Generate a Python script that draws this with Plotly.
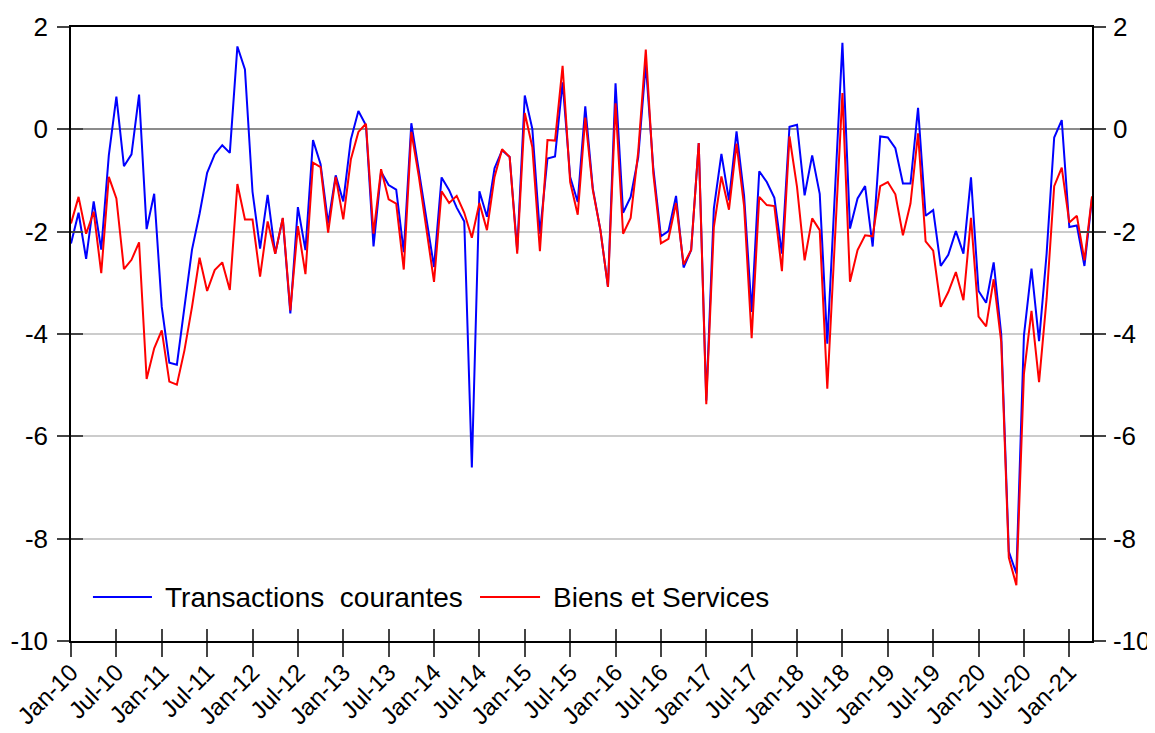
import plotly.graph_objects as go

# Monthly observations, Jan-2010 .. Apr-2021 (136 months)
months = [f"{m}-{y:02d}" for y in range(10, 22) for m in
          ["Jan", "Feb", "Mar", "Apr", "May", "Jun", "Jul", "Aug", "Sep", "Oct", "Nov", "Dec"]][:136]

transactions_courantes = [
    -2.23, -1.63, -2.53, -1.41, -2.35, -0.51, 0.64, -0.72, -0.49, 0.68, -1.95, -1.26,
    -3.47, -4.56, -4.60, -3.47, -2.35, -1.65, -0.85, -0.49, -0.31, -0.46, 1.62, 1.17,
    -1.22, -2.33, -1.28, -2.43, -1.74, -3.60, -1.52, -2.36, -0.21, -0.68, -1.84, -0.90,
    -1.41, -0.20, 0.36, 0.08, -2.29, -0.83, -1.09, -1.18, -2.40, 0.12, -0.80, -1.78,
    -2.69, -0.94, -1.19, -1.53, -1.80, -6.61, -1.21, -1.71, -0.76, -0.41, -0.54, -2.36,
    0.66, 0.01, -2.04, -0.57, -0.53, 0.92, -0.93, -1.42, 0.45, -1.16, -1.97, -3.08,
    0.90, -1.63, -1.32, -0.55, 1.28, -0.77, -2.09, -1.99, -1.30, -2.70, -2.36, -0.27,
    -5.30, -1.55, -0.48, -1.39, -0.04, -1.30, -3.57, -0.82, -1.03, -1.34, -2.43, 0.05,
    0.09, -1.29, -0.51, -1.26, -4.19, -1.25, 1.69, -1.94, -1.35, -1.11, -2.29, -0.14,
    -0.16, -0.37, -1.06, -1.06, 0.42, -1.69, -1.58, -2.67, -2.45, -1.99, -2.43, -0.94,
    -3.16, -3.39, -2.60, -4.01, -8.25, -8.68, -4.03, -2.72, -4.14, -2.43, -0.16, 0.18,
    -1.91, -1.88, -2.67, -1.35,
]

biens_et_services = [
    -1.84, -1.32, -2.04, -1.61, -2.81, -0.93, -1.35, -2.73, -2.55, -2.21, -4.88, -4.28,
    -3.93, -4.93, -4.99, -4.32, -3.47, -2.51, -3.16, -2.75, -2.60, -3.14, -1.07, -1.76,
    -1.76, -2.88, -1.80, -2.43, -1.73, -3.54, -1.89, -2.83, -0.65, -0.74, -2.02, -0.93,
    -1.76, -0.59, -0.05, 0.11, -2.04, -0.78, -1.37, -1.45, -2.74, -0.05, -0.93, -1.97,
    -2.98, -1.21, -1.44, -1.30, -1.63, -2.12, -1.44, -1.97, -0.93, -0.39, -0.54, -2.43,
    0.32, -0.35, -2.38, -0.21, -0.22, 1.24, -1.03, -1.67, 0.23, -1.19, -1.97, -3.08,
    0.51, -2.04, -1.73, -0.44, 1.56, -0.87, -2.23, -2.14, -1.44, -2.64, -2.36, -0.27,
    -5.37, -1.91, -0.92, -1.57, -0.28, -1.50, -4.08, -1.32, -1.48, -1.50, -2.77, -0.14,
    -1.13, -2.56, -1.74, -1.97, -5.07, -2.18, 0.71, -2.98, -2.36, -2.07, -2.09, -1.11,
    -1.03, -1.27, -2.07, -1.45, -0.08, -2.19, -2.37, -3.47, -3.18, -2.79, -3.34, -1.73,
    -3.66, -3.85, -2.93, -4.16, -8.37, -8.91, -4.78, -3.55, -4.94, -3.31, -1.11, -0.75,
    -1.82, -1.69, -2.56, -1.31,
]

series_names = ["Transactions  courantes", "Biens et Services"]
series_colors = ["#0000ff", "#ff0000"]

x_idx = list(range(len(months)))
tick_idx = x_idx[::6]
tick_labels = [months[i] for i in tick_idx]
y_ticks = [2, 0, -2, -4, -6, -8, -10]
y_tick_text = [str(v) for v in y_ticks]  # plain hyphen-minus as in the reference

FONT = "Liberation Sans, Arial, sans-serif"
FS_TICK = 26
FS_XTICK = 24
FS_LEG = 28
TICKC = "#444444"

fig = go.Figure()
# blue on the primary axes, red on the right-hand axis (same scale) so it draws on top
fig.add_trace(go.Scatter(x=x_idx, y=transactions_courantes, mode="lines", name=series_names[0],
                         line=dict(color=series_colors[0], width=2), showlegend=False,
                         xaxis="x", yaxis="y"))
fig.add_trace(go.Scatter(x=x_idx, y=biens_et_services, mode="lines", name=series_names[1],
                         line=dict(color=series_colors[1], width=2), showlegend=False,
                         xaxis="x", yaxis="y2"))
# empty helper traces so the inner-tick overlay axes get drawn
fig.add_trace(go.Scatter(x=[], y=[], xaxis="x2", yaxis="y3", showlegend=False, hoverinfo="skip"))
fig.add_trace(go.Scatter(x=[], y=[], xaxis="x", yaxis="y4", showlegend=False, hoverinfo="skip"))

common_x = dict(range=[0, len(months) - 1], tickmode="array", tickvals=tick_idx,
                showgrid=False, zeroline=False, automargin=False)
common_y = dict(range=[-10, 2], tickmode="array", tickvals=y_ticks, ticktext=y_tick_text,
                showgrid=False, zeroline=False, automargin=False)

# the page body has an 8px margin (top/left), so the figure is 8px smaller
fig.update_layout(
    width=1147, height=725,
    margin=dict(l=63, r=63, t=19, b=92),
    paper_bgcolor="white", plot_bgcolor="white",
    font=dict(family=FONT, size=FS_TICK, color="black"),
    xaxis=dict(**common_x, ticktext=tick_labels, tickangle=-45, ticks="outside",
               ticklen=14, tickwidth=1.5, tickcolor=TICKC, showline=True,
               linecolor="black", linewidth=1.5, mirror=True,
               ticklabelstandoff=-8, ticklabeloverflow="allow",
               tickfont=dict(family=FONT, size=FS_XTICK)),
    xaxis2=dict(**common_x, overlaying="x", anchor="y3", side="bottom",
                ticks="inside", ticklen=12, tickwidth=1.5, tickcolor=TICKC,
                showticklabels=False, showline=False),
    yaxis=dict(range=[-10, 2], tickmode="array", tickvals=y_ticks, ticktext=y_tick_text,
               automargin=False,
               showgrid=True, gridcolor="#cccccc", gridwidth=1.5,
               zeroline=True, zerolinecolor="#8c8c8c", zerolinewidth=2,
               ticks="outside", ticklen=12, tickwidth=1.5, tickcolor=TICKC,
               showline=True, linecolor="black", linewidth=1.5,
               ticklabelstandoff=4, ticklabeloverflow="allow",
               tickfont=dict(family=FONT, size=FS_TICK)),
    yaxis2=dict(**common_y, overlaying="y", side="right", anchor="x",
                ticks="outside", ticklen=12, tickwidth=1.5, tickcolor=TICKC,
                showline=True, linecolor="black", linewidth=1.5,
                ticklabelstandoff=2, ticklabeloverflow="allow",
                tickfont=dict(family=FONT, size=FS_TICK)),
    yaxis3=dict(**common_y, overlaying="y", side="left", anchor="x2",
                ticks="inside", ticklen=12, tickwidth=1.5, tickcolor=TICKC,
                showticklabels=False, showline=False),
    yaxis4=dict(**common_y, overlaying="y", side="right", anchor="x",
                ticks="inside", ticklen=12, tickwidth=1.5, tickcolor=TICKC,
                showticklabels=False, showline=False),
)

# Legend drawn inside the plot, bottom-left
legend_items = [
    (0.0215, 0.0793, 0.0901),
    (0.4006, 0.4594, 0.4701),
]
ly = 0.0716
for (x0, x1, xt), name, col in zip(legend_items, series_names, series_colors):
    fig.add_shape(type="line", xref="paper", yref="paper", x0=x0, x1=x1, y0=ly, y1=ly,
                  line=dict(color=col, width=2))
    fig.add_annotation(xref="paper", yref="paper", x=xt, y=ly, text=name.replace("  ", "&nbsp; "),
                       showarrow=False, xanchor="left", yanchor="middle",
                       font=dict(family=FONT, size=FS_LEG, color="black"))

fig.write_html("out.html")
